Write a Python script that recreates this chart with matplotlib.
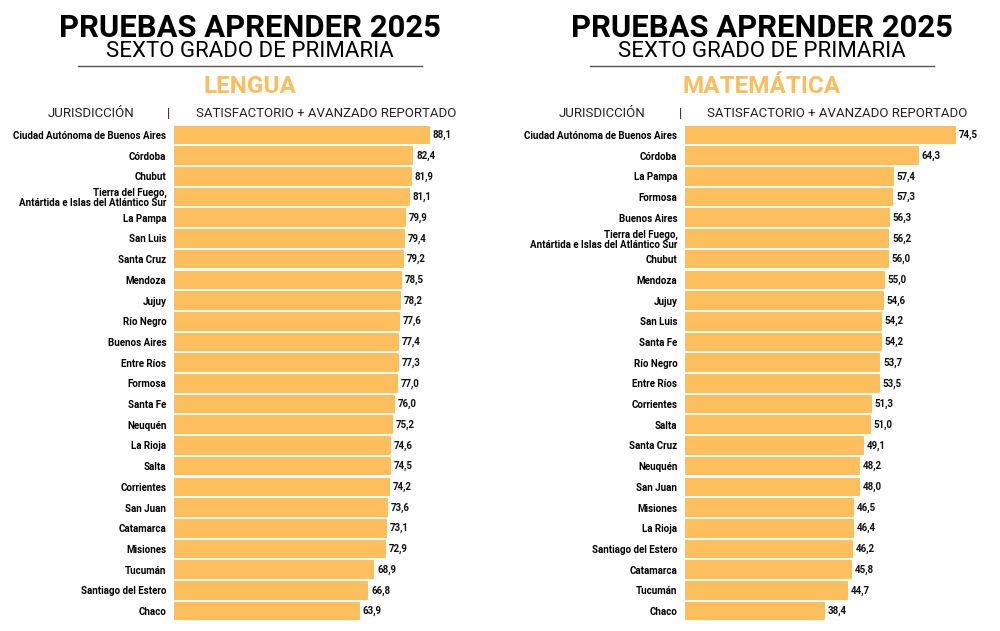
import matplotlib.pyplot as plt

plt.rcParams['font.family'] = ['Roboto', 'DejaVu Sans']

# data
lengua_names = [
    "Ciudad Autónoma de Buenos Aires", "Córdoba", "Chubut",
    "Tierra del Fuego,\nAntártida e Islas del Atlántico Sur",
    "La Pampa", "San Luis", "Santa Cruz", "Mendoza", "Jujuy", "Río Negro",
    "Buenos Aires", "Entre Ríos", "Formosa", "Santa Fe", "Neuquén",
    "La Rioja", "Salta", "Corrientes", "San Juan", "Catamarca", "Misiones",
    "Tucumán", "Santiago del Estero", "Chaco",
]
lengua_vals = [88.1, 82.4, 81.9, 81.1, 79.9, 79.4, 79.2, 78.5, 78.2, 77.6,
               77.4, 77.3, 77.0, 76.0, 75.2, 74.6, 74.5, 74.2, 73.6, 73.1,
               72.9, 68.9, 66.8, 63.9]

mate_names = [
    "Ciudad Autónoma de Buenos Aires", "Córdoba", "La Pampa", "Formosa",
    "Buenos Aires", "Tierra del Fuego,\nAntártida e Islas del Atlántico Sur",
    "Chubut", "Mendoza", "Jujuy", "San Luis", "Santa Fe", "Río Negro",
    "Entre Ríos", "Corrientes", "Salta", "Santa Cruz", "Neuquén", "San Juan",
    "Misiones", "La Rioja", "Santiago del Estero", "Catamarca", "Tucumán",
    "Chaco",
]
mate_vals = [74.5, 64.3, 57.4, 57.3, 56.3, 56.2, 56.0, 55.0, 54.6, 54.2,
             54.2, 53.7, 53.5, 51.3, 51.0, 49.1, 48.2, 48.0, 46.5, 46.4,
             46.2, 45.8, 44.7, 38.4]

BAR = "#FDBE5D"
W, H = 1000, 631

fig = plt.figure(figsize=(10, 6.31), dpi=100)


def px(x, y):
    return x / W, 1 - y / H


def panel(left_px, width_px, xmax, names, vals, subject, cx, jur_x, sep_x, sat_x):
    ax = fig.add_axes([left_px / W, (H - 621.4) / H, width_px / W, 496.8 / H])
    y = list(range(len(names)))
    ax.barh(y, vals, height=0.8, color=BAR, edgecolor=BAR, linewidth=1.5,
            joinstyle='round')
    ax.set_ylim(len(names) - 0.5, -0.5)
    ax.set_xlim(0, xmax)
    ax.set_yticks(y)
    ax.set_yticklabels(names, fontsize=7, fontweight='bold', linespacing=1.0)
    ax.tick_params(axis='y', length=0, pad=5.5)
    ax.set_xticks([])
    for s in ax.spines.values():
        s.set_visible(False)
    for yi, v in zip(y, vals):
        ax.text(v + xmax * 0.012, yi, f"{v:.1f}".replace('.', ','),
                va='center', ha='left', fontsize=7, fontweight='bold',
                color='#111111')

    fig.text(*px(cx, 37), "PRUEBAS APRENDER 2025", ha='center', va='baseline',
             fontsize=22.3, fontweight='bold', color='black')
    fig.text(*px(cx, 57), "SEXTO GRADO DE PRIMARIA", ha='center', va='baseline',
             fontsize=16, color='black')
    fig.add_artist(plt.Line2D([(cx - 172) / W, (cx + 172) / W],
                              [1 - 66 / H, 1 - 66 / H],
                              color='#555555', linewidth=1))
    fig.text(*px(cx, 93), subject, ha='center', va='baseline',
             fontsize=17.5, fontweight='bold', color='#FBBD5E')
    fig.text(*px(jur_x, 117), "JURISDICCIÓN", ha='center', va='baseline',
             fontsize=9.5, color='#222222')
    fig.text(*px(sep_x, 117), "|", ha='center', va='baseline',
             fontsize=9.5, color='#222222')
    fig.text(*px(sat_x, 117), "SATISFACTORIO + AVANZADO REPORTADO",
             ha='center', va='baseline', fontsize=9.5, color='#222222')


panel(174, 316, 316 / 2.894, lengua_names, lengua_vals, "LENGUA",
      250, 91, 169, 326)
panel(685, 300, 300 / 3.62, mate_names, mate_vals, "MATEMÁTICA",
      762, 602, 680, 837)

fig.savefig("out.png", dpi=100, facecolor='white')
